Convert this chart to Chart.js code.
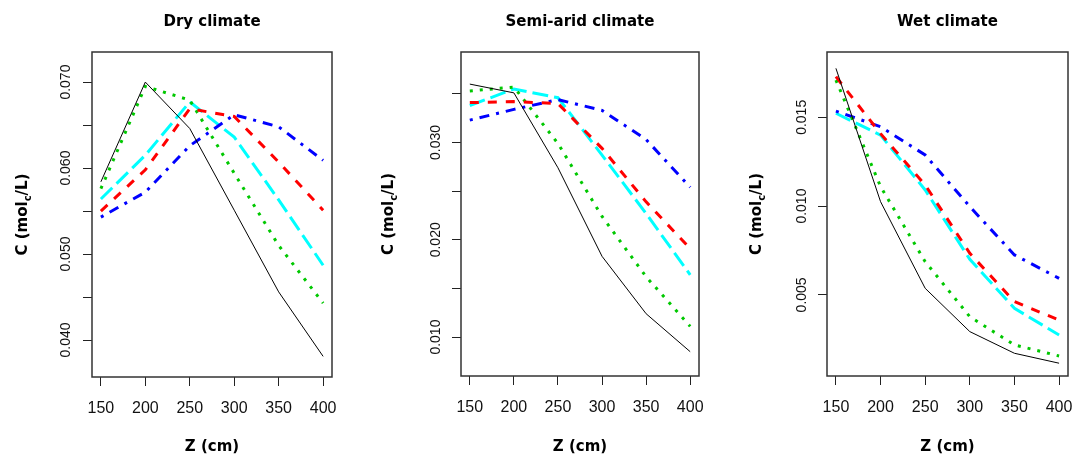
<!DOCTYPE html>
<html>
<head>
<meta charset="utf-8">
<script src="https://cdn.jsdelivr.net/npm/chart.js@4.4.1/dist/chart.umd.min.js"></script>
<style>
  body { margin: 0; background: #fff; }
  .panel { position: absolute; top: 0; }
</style>
</head>
<body>
<div class="panel" style="left:0px"><canvas id="dry" width="360" height="457"></canvas></div>
<div class="panel" style="left:360px"><canvas id="semi" width="360" height="457"></canvas></div>
<div class="panel" style="left:720px"><canvas id="wet" width="353" height="457"></canvas></div>
<script>
// depth (cm)
const zValues = [150, 200, 250, 300, 350, 400];
const zTicks = ['150', '200', '250', '300', '350', '400'];

// Dry climate
const dryBlack = [0.0584, 0.0700, 0.0646, 0.0551, 0.0456, 0.0381];
const dryRed = [0.0550, 0.0598, 0.0669, 0.0660, 0.0607, 0.0551];
const dryGreen = [0.0576, 0.0695, 0.0679, 0.0594, 0.0510, 0.0443];
const dryBlue = [0.0543, 0.0572, 0.0626, 0.0662, 0.0648, 0.0609];
const dryCyan = [0.0564, 0.0615, 0.0677, 0.0636, 0.0563, 0.0487];
const dryTickLabels = ['0.040', '0.050', '0.060', '0.070'];

// Semi-arid climate
const semiBlack = [0.0360, 0.0351, 0.0274, 0.0183, 0.0124, 0.0085];
const semiRed = [0.0341, 0.0342, 0.0340, 0.0294, 0.0239, 0.0191];
const semiGreen = [0.0353, 0.0357, 0.0299, 0.0224, 0.0162, 0.0111];
const semiBlue = [0.0323, 0.0334, 0.0344, 0.0333, 0.0303, 0.0254];
const semiCyan = [0.0338, 0.0355, 0.0346, 0.0287, 0.0227, 0.0164];
const semiTickLabels = ['0.010', '0.020', '0.030'];

// Wet climate
const wetBlack = [0.01776, 0.01025, 0.00537, 0.00293, 0.00171, 0.00115];
const wetRed = [0.01729, 0.01408, 0.01119, 0.00734, 0.00462, 0.00358];
const wetGreen = [0.0171, 0.0111, 0.00687, 0.00377, 0.00218, 0.00156];
const wetBlue = [0.01535, 0.01447, 0.01288, 0.00997, 0.00725, 0.00593];
const wetCyan = [0.01523, 0.0140, 0.01091, 0.0070, 0.00424, 0.00274];
const wetTickLabels = ['0.005', '0.010', '0.015'];

function pts(vals) {
  return zValues.map(function(z, i) { return {x: z, y: vals[i]}; });
}

function line(vals, color, width, dash) {
  return {
    data: pts(vals),
    borderColor: color,
    borderWidth: width,
    borderDash: dash,
    borderCapStyle: 'butt',
    pointRadius: 0,
    tension: 0,
    fill: false
  };
}

// box round the plot, rotated y labels and the y title with its subscript
const frameAndText = {
  id: 'frameAndText',
  afterDraw(chart, args, opts) {
    var ctx = chart.ctx;
    var a = chart.chartArea;
    var ys = chart.scales.y;
    ctx.save();
    ctx.strokeStyle = '#333';
    ctx.lineWidth = 1.5;
    ctx.strokeRect(a.left, a.top, a.right - a.left, a.bottom - a.top);

    ctx.fillStyle = '#111';
    ctx.font = '14px "Liberation Sans"';
    ctx.textAlign = 'center';
    ctx.textBaseline = 'middle';
    ys.ticks.forEach(function(t) {
      if (!t.label) return;
      var py = ys.getPixelForValue(t.value);
      ctx.save();
      ctx.translate(a.left - opts.labelGap, py);
      ctx.rotate(-Math.PI / 2);
      ctx.fillText(t.label, 0, 0);
      ctx.restore();
    });

    var big = 'bold 15px "DejaVu Sans"';
    var small = 'bold 10px "DejaVu Sans"';
    ctx.font = big;
    var w1 = ctx.measureText('C (mol').width;
    var w3 = ctx.measureText('/L)').width;
    ctx.font = small;
    var w2 = ctx.measureText('c').width;
    var total = w1 + w2 + w3;
    ctx.save();
    ctx.translate(a.left - opts.titleGap, (a.top + a.bottom) / 2);
    ctx.rotate(-Math.PI / 2);
    ctx.textAlign = 'left';
    ctx.fillStyle = '#000';
    ctx.font = big;
    ctx.fillText('C (mol', -total / 2, 0);
    ctx.font = small;
    ctx.fillText('c', -total / 2 + w1, 5);
    ctx.font = big;
    ctx.fillText('/L)', -total / 2 + w1 + w2, 0);
    ctx.restore();
    ctx.restore();
  }
};

function makeChart(id, title, series, yMin, yMax, yLabels, yWidth, xHeight, padRight, labelGap, titleGap) {
  new Chart(document.getElementById(id), {
    type: 'line',
    data: {
      datasets: [
        line(series[0], '#000000', 1, []),
        line(series[1], '#ff0000', 3, [9, 9]),
        line(series[2], '#00c800', 3, [3, 7]),
        line(series[3], '#0000ff', 3, [3, 7, 10, 7]),
        line(series[4], '#00ffff', 3, [16, 6])
      ]
    },
    options: {
      responsive: false,
      animation: false,
      layout: { padding: { left: 0, right: padRight, top: 0, bottom: 0 } },
      plugins: {
        legend: { display: false },
        tooltip: { enabled: false },
        title: {
          display: true,
          text: title,
          fullSize: false,
          color: '#000',
          font: { family: 'DejaVu Sans', size: 15, weight: 'bold' },
          padding: { top: 13, bottom: 21 }
        },
        frameAndText: { labelGap: labelGap, titleGap: titleGap }
      },
      scales: {
        x: {
          type: 'linear',
          min: 140,
          max: 410,
          afterFit: function(s) {
            s.height = xHeight;
            s.paddingLeft = 0;
            s.paddingRight = 0;
          },
          grid: { drawOnChartArea: false, drawTicks: true, tickLength: 9, color: '#222', lineWidth: 1 },
          border: { display: false },
          ticks: {
            stepSize: 50,
            includeBounds: false,
            padding: 13,
            color: '#111',
            font: { family: 'Liberation Sans', size: 16 },
            callback: function(v) {
              var k = zValues.indexOf(v);
              return k >= 0 ? zTicks[k] : '';
            }
          },
          title: {
            display: true,
            text: 'Z (cm)',
            color: '#000',
            font: { family: 'DejaVu Sans', size: 15, weight: 'bold' },
            padding: { top: 0, bottom: 1 }
          }
        },
        y: {
          type: 'linear',
          min: yMin,
          max: yMax,
          afterFit: function(s) { s.width = yWidth; },
          grid: { drawOnChartArea: false, drawTicks: true, tickLength: 9, color: '#222', lineWidth: 1 },
          border: { display: false },
          ticks: {
            display: false,
            stepSize: 0.005,
            includeBounds: false,
            callback: function(v) {
              var s = v.toFixed(3);
              return yLabels.indexOf(s) >= 0 ? s : '';
            }
          }
        }
      }
    },
    plugins: [frameAndText]
  });
}

makeChart('dry', 'Dry climate', [dryBlack, dryRed, dryGreen, dryBlue, dryCyan],
  0.0357, 0.0735, dryTickLabels, 92, 80, 28, 26, 69);
makeChart('semi', 'Semi-arid climate', [semiBlack, semiRed, semiGreen, semiBlue, semiCyan],
  0.0060, 0.0393, semiTickLabels, 101, 81, 21, 25, 72);
makeChart('wet', 'Wet climate', [wetBlack, wetRed, wetGreen, wetBlue, wetCyan],
  0.00043, 0.01868, wetTickLabels, 107, 81, 5, 25, 70);
</script>
</body>
</html>
